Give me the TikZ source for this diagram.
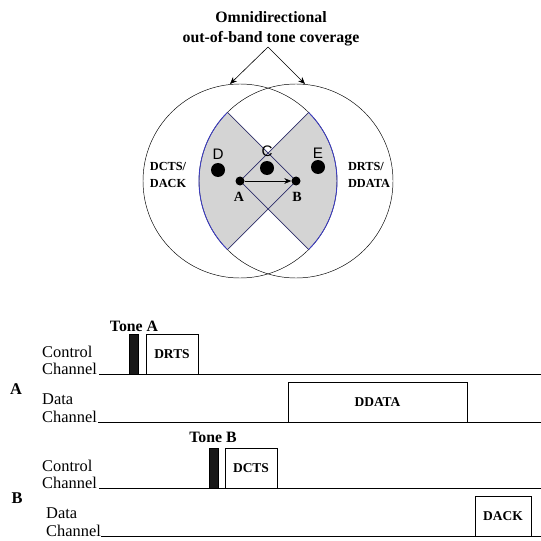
\documentclass[tikz,border=0pt]{standalone}
\usepackage{fontspec}
\setmainfont{Liberation Serif}
\setsansfont{Liberation Sans}
\usetikzlibrary{arrows.meta}
\definecolor{edgeblue}{RGB}{45,45,105}
\definecolor{arcblue}{RGB}{60,60,200}
\definecolor{lensgray}{RGB}{212,212,212}

\begin{document}
\begin{tikzpicture}[x = 0.03cm, y = -0.03cm,
	chantext/.style = {anchor=base west, inner sep=0pt, font=\fontsize{14}{16}\selectfont},
	sidelbl/.style = {font=\fontsize{14}{16}\selectfont\bfseries},
	tonelbl/.style = {anchor=base, inner sep=0pt, font=\fontsize{13.5}{16}\selectfont\bfseries},
	nodelbl/.style = {font=\fontsize{12}{14}\selectfont\bfseries, inner sep=0pt},
	stalbl/.style = {font=\fontsize{13}{14}\sffamily, inner sep=0pt},
	pkt/.style = {draw, line width=0.6pt, inner sep=0pt, minimum height=1.2cm, font=\fontsize{11.5}{13}\selectfont\bfseries},
	tonebar/.style = {draw, fill=black!90, line width=0.6pt, inner sep=0pt, minimum width=0.27cm, minimum height=1.2cm},
	smalldot/.style = {circle, fill, inner sep=0pt, minimum size=0.27cm},
	bigdot/.style = {circle, fill, inner sep=0pt, minimum size=0.42cm},
	chan/.style = {line width=0.6pt}]

\useasboundingbox (0,0) rectangle (541,541);
\def\rad{2.91cm}

% ranges of A and B
\coordinate (A) at (240,181);
\coordinate (B) at (296,181);

\fill[lensgray] (A) -- ++(45:\rad) arc[start angle=45, end angle=-45, radius=\rad] -- cycle;
\fill[lensgray] (B) -- ++(135:\rad) arc[start angle=135, end angle=225, radius=\rad] -- cycle;

\draw[line width=0.4pt] (A) circle[radius=\rad];
\draw[line width=0.4pt] (B) circle[radius=\rad];

\draw[arcblue, line width=0.7pt] (A) ++(45:\rad) arc[start angle=45, end angle=-45, radius=\rad];
\draw[arcblue, line width=0.7pt] (B) ++(135:\rad) arc[start angle=135, end angle=225, radius=\rad];
\draw[edgeblue, line width=0.6pt] (A) -- ++(45:\rad) (A) -- ++(-45:\rad);
\draw[edgeblue, line width=0.6pt] (B) -- ++(135:\rad) (B) -- ++(225:\rad);

% stations
\node[smalldot] (a) at (A) {};
\node[smalldot] (b) at (B) {};
\node[bigdot] (c) at (267,168) {};
\node[bigdot] (d) at (218,170) {};
\node[bigdot] (e) at (318,167) {};
\draw[-{Stealth[length=6pt, width=5pt]}, line width=0.6pt] (a) -- (b);

\node[nodelbl] (alabel) at (239,197) {A};
\node[nodelbl] (blabel) at (297,197) {B};
\node[stalbl] (clabel) at (267,151) {C};
\node[stalbl] (dlabel) at (218,154) {D};
\node[stalbl] (elabel) at (318,153) {E};

\node[align=left, inner sep=0pt, font=\fontsize{10.5}{15}\selectfont\bfseries] (left) at (168,175) {DCTS/\\DACK};
\node[align=left, inner sep=0pt, font=\fontsize{10.5}{15}\selectfont\bfseries] (right) at (369,175) {DRTS/\\DDATA};

% coverage caption
\node[align=center, font=\fontsize{13.5}{17}\selectfont\bfseries] (title) at (271,29) {Omnidirectional\\out-of-band tone coverage};
\coordinate (apex) at (268,47);
\coordinate (ltop) at (230,84);
\coordinate (rtop) at (305,84);
\draw[-{Stealth[length=6pt, width=5pt]}, line width=0.5pt] (apex) -- (ltop);
\draw[-{Stealth[length=6pt, width=5pt]}, line width=0.5pt] (apex) -- (rtop);

% timing of A
\node[chantext] (ctlA1) at (42,357) {Control};
\node[chantext] (ctlA) at (42,374) {Channel};
\node[chantext] (datA1) at (42,404) {Data};
\node[chantext] (datA) at (42,422) {Channel};
\node[sidelbl] (sideA) at (16,389) {A};
\coordinate (ctlAend) at (541,374);
\coordinate (datAend) at (541,422);
\draw[chan] (ctlA.base east) ++(2pt,0) -- (ctlAend);
\draw[chan] (datA.base east) ++(1pt,0) -- (datAend);

\node[tonelbl] (toneA) at (134,331) {Tone A};
\node[tonebar] (barA) at (133.5,354) {};
\node[pkt, minimum width=1.56cm] (drts) at (172,354) {DRTS};
\node[pkt, minimum width=5.37cm] (ddata) at (377.5,402) {DDATA};

% timing of B
\node[chantext] (ctlB1) at (42,471) {Control};
\node[chantext] (ctlB) at (42,488) {Channel};
\node[chantext] (datB1) at (46,518) {Data};
\node[chantext] (datB) at (46,536) {Channel};
\node[sidelbl] (sideB) at (17,498) {B};
\coordinate (ctlBend) at (541,488);
\coordinate (datBend) at (541,536);
\draw[chan] (ctlB.base east) ++(2pt,0) -- (ctlBend);
\draw[chan] (datB.base east) -- (datBend);

\node[tonelbl] (toneB) at (213,442) {Tone B};
\node[tonebar] (barB) at (213.5,468) {};
\node[pkt, minimum width=1.56cm] (dcts) at (251,468) {DCTS};
\node[pkt, minimum width=1.68cm] (dack) at (503,516) {DACK};

\end{tikzpicture}
\end{document}
